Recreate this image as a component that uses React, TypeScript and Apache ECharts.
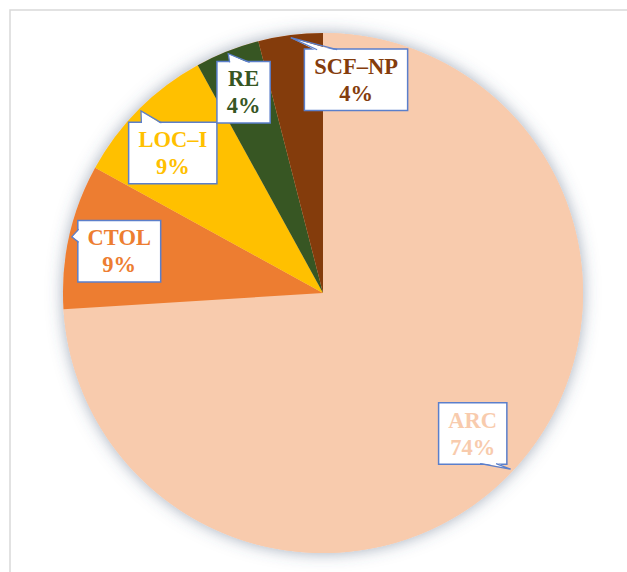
import React, { useEffect, useRef } from 'react';
import * as echarts from 'echarts';

const categories = ['ARC', 'CTOL', 'LOC–I', 'RE', 'SCF–NP'];
const values = [74, 9, 9, 4, 4];
const sliceColors = ['#F8CBAD', '#ED7D31', '#FFC000', '#375623', '#843C0C'];
const labelColors = ['#F8CBAD', '#ED7D31', '#FFC000', '#375623', '#843C0C'];

// layout (not data): pie centre / radius in px, label placement [radius factor, angle shift deg]
const CX = 323;
const CY = 293;
const R = 260;
const LABEL_PLACEMENT = [
  [0.79, 0],
  [0.8, -1],
  [0.79, -2],
  [0.83, 0],
  [0.83, 16],
];
const BORDER_BLUE = '#5B7FCB';
const FONT_SIZE = 22.5;
const LINE_HEIGHT = 27;
const PAD = [4, 9, 2, 9];
const FONT_FAMILY = 'Liberation Serif';

const total = values.reduce((a, b) => a + b, 0);

function midAngle(i: number): number {
  let cum = 0;
  for (let k = 0; k < i; k++) cum += values[k];
  return ((cum + values[i] / 2) / total) * 360;
}

function polar(angleDeg: number, r: number): [number, number] {
  const t = (angleDeg * Math.PI) / 180;
  return [CX + r * Math.sin(t), CY - r * Math.cos(t)];
}

let measureCtx: CanvasRenderingContext2D | null = null;
function textWidth(s: string): number {
  if (!measureCtx) {
    measureCtx = document.createElement('canvas').getContext('2d');
  }
  if (!measureCtx) return s.length * 12;
  measureCtx.font = `bold ${FONT_SIZE}px "${FONT_FAMILY}"`;
  return measureCtx.measureText(s).width;
}

function callout(i: number) {
  const [rf, shift] = LABEL_PLACEMENT[i];
  const mid = midAngle(i);
  const [lx, ly] = polar(mid + shift, rf * R);
  const pct = `${Math.round((values[i] / total) * 100)}%`;
  const w = Math.max(textWidth(categories[i]), textWidth(pct)) + PAD[1] + PAD[3];
  const h = LINE_HEIGHT * 2 + PAD[0] + PAD[2];
  const left = lx - w / 2;
  const right = lx + w / 2;
  const top = ly - h / 2;
  const bottom = ly + h / 2;
  const tip = polar(mid, 0.99 * R);
  let a: number[];
  let b: number[];
  let inward: number[];
  if (tip[1] < top) {
    inward = [0, 1];
    if (tip[0] < lx) {
      a = [left + 12, top];
      b = [left + 32, top];
    } else {
      a = [right - 12, top];
      b = [right - 32, top];
    }
  } else if (tip[1] > bottom) {
    inward = [0, -1];
    if (tip[0] < lx) {
      a = [left + 10, bottom];
      b = [left + 26, bottom];
    } else {
      a = [right - 10, bottom];
      b = [right - 26, bottom];
    }
  } else if (tip[0] < left) {
    inward = [1, 0];
    a = [left, top + 8];
    b = [left, top + 21];
  } else {
    inward = [-1, 0];
    a = [right, top + 8];
    b = [right, top + 21];
  }
  return { lx, ly, tip, a, b, inward };
}

export default function App() {
  const ref = useRef<HTMLDivElement>(null);

  useEffect(() => {
    if (!ref.current) return;
    const chart = echarts.init(ref.current, null, { renderer: 'svg' });

    const data = categories.map((name, i) => ({
      name,
      value: values[i],
      itemStyle: { color: sliceColors[i] },
      label: { color: labelColors[i] },
    }));

    const option: any = {
      animation: false,
      backgroundColor: '#ffffff',
      graphic: [
        {
          type: 'rect',
          shape: { x: 10, y: 10, width: 700, height: 700 },
          style: { fill: 'none', stroke: '#D9D9D9', lineWidth: 1.5 },
          silent: true,
          z: 0,
        },
      ],
      series: [
        {
          type: 'pie',
          name: 'shadow',
          silent: true,
          center: [CX, CY],
          radius: R,
          startAngle: 90,
          label: { show: false },
          labelLine: { show: false },
          itemStyle: {
            color: '#F8CBAD',
            shadowBlur: 16,
            shadowColor: 'rgba(70, 90, 120, 0.5)',
          },
          data: [{ name: 'all', value: total }],
        },
        {
          type: 'pie',
          name: 'main',
          silent: true,
          center: [CX, CY],
          radius: R,
          startAngle: 90,
          clockwise: true,
          avoidLabelOverlap: false,
          itemStyle: { borderWidth: 0 },
          label: {
            show: true,
            position: 'outside',
            formatter: '{b}\n{d}%',
            fontFamily: FONT_FAMILY,
            fontWeight: 'bold',
            fontSize: FONT_SIZE,
            lineHeight: LINE_HEIGHT,
            backgroundColor: '#ffffff',
            borderColor: BORDER_BLUE,
            borderWidth: 1.5,
            padding: PAD,
            align: 'center',
          },
          labelLine: { show: false },
          labelLayout: (params: any) => {
            const c = callout(params.dataIndex);
            return {
              x: c.lx,
              y: c.ly,
              align: 'center',
              verticalAlign: 'middle',
            };
          },
          data,
        },
        {
          type: 'custom',
          name: 'pointers',
          coordinateSystem: 'none',
          silent: true,
          z: 5,
          data: categories.map((_, i) => i),
          renderItem: (params: any) => {
            const c = callout(params.dataIndex);
            const fa = [c.a[0] + c.inward[0] * 1.2, c.a[1] + c.inward[1] * 1.2];
            const fb = [c.b[0] + c.inward[0] * 1.2, c.b[1] + c.inward[1] * 1.2];
            return {
              type: 'group',
              children: [
                {
                  type: 'polygon',
                  shape: { points: [fa, c.tip, fb] },
                  style: { fill: '#ffffff', stroke: null },
                },
                {
                  type: 'polyline',
                  shape: { points: [c.a, c.tip, c.b] },
                  style: { fill: null, stroke: BORDER_BLUE, lineWidth: 1.3 },
                },
              ],
            };
          },
        },
      ],
    };

    chart.setOption(option);
    return () => chart.dispose();
  }, []);

  return (
    <div
      ref={ref}
      style={{ position: 'fixed', left: 0, top: 0, width: 627, height: 572 }}
    />
  );
}
